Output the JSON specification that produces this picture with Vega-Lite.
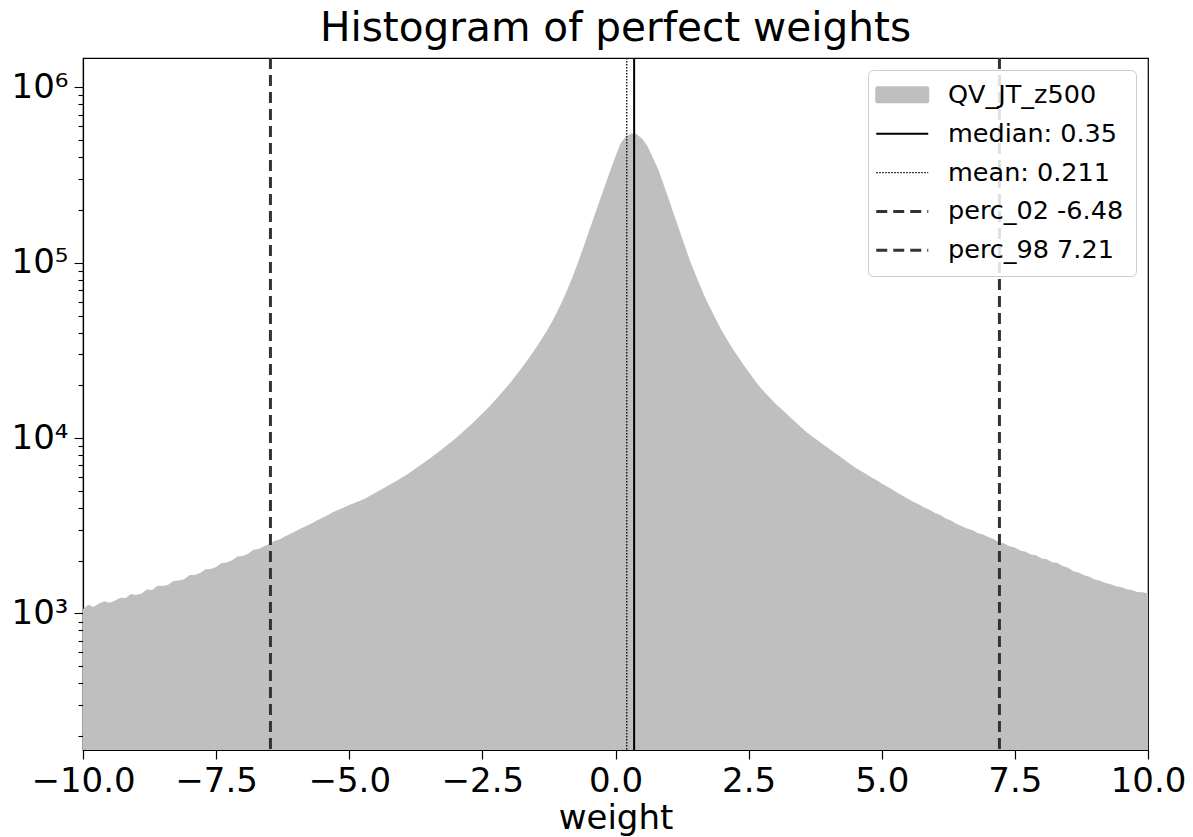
{
  "$schema": "https://vega.github.io/schema/vega-lite/v6.json",
  "width": 1065,
  "height": 692,
  "autosize": "none",
  "padding": {"left": 83, "top": 58, "right": 45, "bottom": 87},
  "background": "white",
  "config": {"font": "DejaVu Sans", "view": {"stroke": "black", "strokeWidth": 1.2}},
  "title": {"text": "Histogram of perfect weights", "fontSize": 40.6, "fontWeight": "normal", "font": "DejaVu Sans", "color": "black", "anchor": "middle", "baseline": "bottom", "offset": -34},
  "layer": [
    {
      "data": {"values": [
        {"weight": -10.0, "count": 1060}, {"weight": -9.9, "count": 1120}, {"weight": -9.8, "count": 1090}, {"weight": -9.7, "count": 1140}, {"weight": -9.6, "count": 1175},
        {"weight": -9.5, "count": 1150}, {"weight": -9.4, "count": 1180}, {"weight": -9.3, "count": 1230}, {"weight": -9.2, "count": 1225}, {"weight": -9.1, "count": 1290},
        {"weight": -9.0, "count": 1275}, {"weight": -8.9, "count": 1300}, {"weight": -8.8, "count": 1370}, {"weight": -8.7, "count": 1360}, {"weight": -8.6, "count": 1440},
        {"weight": -8.5, "count": 1435}, {"weight": -8.4, "count": 1460}, {"weight": -8.3, "count": 1530}, {"weight": -8.2, "count": 1540}, {"weight": -8.1, "count": 1565},
        {"weight": -8.0, "count": 1660}, {"weight": -7.9, "count": 1655}, {"weight": -7.8, "count": 1700}, {"weight": -7.7, "count": 1790}, {"weight": -7.6, "count": 1795},
        {"weight": -7.5, "count": 1840}, {"weight": -7.4, "count": 1940}, {"weight": -7.3, "count": 1950}, {"weight": -7.2, "count": 2010}, {"weight": -7.1, "count": 2110},
        {"weight": -7.0, "count": 2125}, {"weight": -6.9, "count": 2190}, {"weight": -6.8, "count": 2310}, {"weight": -6.7, "count": 2330}, {"weight": -6.6, "count": 2420},
        {"weight": -6.5, "count": 2490}, {"weight": -6.4, "count": 2600}, {"weight": -6.3, "count": 2650}, {"weight": -6.2, "count": 2760}, {"weight": -6.1, "count": 2850},
        {"weight": -6.0, "count": 2950}, {"weight": -5.9, "count": 3060}, {"weight": -5.8, "count": 3160}, {"weight": -5.7, "count": 3270}, {"weight": -5.6, "count": 3400},
        {"weight": -5.5, "count": 3510}, {"weight": -5.4, "count": 3650}, {"weight": -5.3, "count": 3790}, {"weight": -5.2, "count": 3905}, {"weight": -5.1, "count": 4020},
        {"weight": -5.0, "count": 4150}, {"weight": -4.9, "count": 4270}, {"weight": -4.8, "count": 4400}, {"weight": -4.7, "count": 4530}, {"weight": -4.6, "count": 4715},
        {"weight": -4.5, "count": 4900}, {"weight": -4.4, "count": 5100}, {"weight": -4.3, "count": 5300}, {"weight": -4.2, "count": 5510}, {"weight": -4.1, "count": 5730},
        {"weight": -4.0, "count": 5975}, {"weight": -3.9, "count": 6250}, {"weight": -3.8, "count": 6565}, {"weight": -3.7, "count": 6885}, {"weight": -3.6, "count": 7230},
        {"weight": -3.5, "count": 7603}, {"weight": -3.4, "count": 8017}, {"weight": -3.3, "count": 8453}, {"weight": -3.2, "count": 8933}, {"weight": -3.1, "count": 9441},
        {"weight": -3.0, "count": 10000}, {"weight": -2.9, "count": 10617}, {"weight": -2.8, "count": 11298}, {"weight": -2.7, "count": 12050}, {"weight": -2.6, "count": 12882},
        {"weight": -2.5, "count": 13804}, {"weight": -2.4, "count": 14825}, {"weight": -2.3, "count": 15959}, {"weight": -2.2, "count": 17258}, {"weight": -2.1, "count": 18707},
        {"weight": -2.0, "count": 20324}, {"weight": -1.9, "count": 22182}, {"weight": -1.8, "count": 24266}, {"weight": -1.7, "count": 26669}, {"weight": -1.6, "count": 29444},
        {"weight": -1.5, "count": 32584}, {"weight": -1.4, "count": 36141}, {"weight": -1.3, "count": 40458}, {"weight": -1.2, "count": 45709}, {"weight": -1.1, "count": 52240},
        {"weight": -1.0, "count": 60395}, {"weight": -0.9, "count": 70795}, {"weight": -0.8, "count": 84140}, {"weight": -0.7, "count": 101390}, {"weight": -0.6, "count": 123027},
        {"weight": -0.5, "count": 150661}, {"weight": -0.4, "count": 184077}, {"weight": -0.3, "count": 224905}, {"weight": -0.2, "count": 274157}, {"weight": -0.1, "count": 334195},
        {"weight": 0.0, "count": 405509}, {"weight": 0.1, "count": 483059}, {"weight": 0.2, "count": 527230}, {"weight": 0.3, "count": 545758}, {"weight": 0.4, "count": 540754},
        {"weight": 0.5, "count": 510505}, {"weight": 0.6, "count": 463447}, {"weight": 0.7, "count": 398107}, {"weight": 0.8, "count": 342768}, {"weight": 0.9, "count": 281838},
        {"weight": 1.0, "count": 230144}, {"weight": 1.1, "count": 187932}, {"weight": 1.2, "count": 153462}, {"weight": 1.3, "count": 125314}, {"weight": 1.4, "count": 102329},
        {"weight": 1.5, "count": 86099}, {"weight": 1.6, "count": 72778}, {"weight": 1.7, "count": 61660}, {"weight": 1.8, "count": 53703}, {"weight": 1.9, "count": 46774},
        {"weight": 2.0, "count": 40738}, {"weight": 2.1, "count": 36308}, {"weight": 2.2, "count": 32359}, {"weight": 2.3, "count": 29174}, {"weight": 2.4, "count": 26303},
        {"weight": 2.5, "count": 23878}, {"weight": 2.6, "count": 21677}, {"weight": 2.7, "count": 19770}, {"weight": 2.8, "count": 18281}, {"weight": 2.9, "count": 16982},
        {"weight": 3.0, "count": 15776}, {"weight": 3.1, "count": 14791}, {"weight": 3.2, "count": 13868}, {"weight": 3.3, "count": 13002}, {"weight": 3.4, "count": 12190},
        {"weight": 3.5, "count": 11429}, {"weight": 3.6, "count": 10715}, {"weight": 3.7, "count": 10186}, {"weight": 3.8, "count": 9683}, {"weight": 3.9, "count": 9204},
        {"weight": 4.0, "count": 8750}, {"weight": 4.1, "count": 8318}, {"weight": 4.2, "count": 7907}, {"weight": 4.3, "count": 7530}, {"weight": 4.4, "count": 7140},
        {"weight": 4.5, "count": 6800}, {"weight": 4.6, "count": 6520}, {"weight": 4.7, "count": 6260}, {"weight": 4.8, "count": 5990}, {"weight": 4.9, "count": 5780},
        {"weight": 5.0, "count": 5520}, {"weight": 5.1, "count": 5300}, {"weight": 5.2, "count": 5090}, {"weight": 5.3, "count": 4870}, {"weight": 5.4, "count": 4680},
        {"weight": 5.5, "count": 4500}, {"weight": 5.6, "count": 4320}, {"weight": 5.7, "count": 4190}, {"weight": 5.8, "count": 4020}, {"weight": 5.9, "count": 3900},
        {"weight": 6.0, "count": 3740}, {"weight": 6.1, "count": 3640}, {"weight": 6.2, "count": 3480}, {"weight": 6.3, "count": 3390}, {"weight": 6.4, "count": 3250},
        {"weight": 6.5, "count": 3150}, {"weight": 6.6, "count": 3050}, {"weight": 6.7, "count": 2990}, {"weight": 6.8, "count": 2880}, {"weight": 6.9, "count": 2820},
        {"weight": 7.0, "count": 2730}, {"weight": 7.1, "count": 2660}, {"weight": 7.2, "count": 2550}, {"weight": 7.3, "count": 2510}, {"weight": 7.4, "count": 2420},
        {"weight": 7.5, "count": 2380}, {"weight": 7.6, "count": 2290}, {"weight": 7.7, "count": 2250}, {"weight": 7.8, "count": 2170}, {"weight": 7.9, "count": 2150},
        {"weight": 8.0, "count": 2060}, {"weight": 8.1, "count": 2040}, {"weight": 8.2, "count": 1960}, {"weight": 8.3, "count": 1940}, {"weight": 8.4, "count": 1865},
        {"weight": 8.5, "count": 1825}, {"weight": 8.6, "count": 1740}, {"weight": 8.7, "count": 1715}, {"weight": 8.8, "count": 1650}, {"weight": 8.9, "count": 1620},
        {"weight": 9.0, "count": 1560}, {"weight": 9.1, "count": 1535}, {"weight": 9.2, "count": 1490}, {"weight": 9.3, "count": 1470}, {"weight": 9.4, "count": 1430},
        {"weight": 9.5, "count": 1410}, {"weight": 9.6, "count": 1375}, {"weight": 9.7, "count": 1360}, {"weight": 9.8, "count": 1325}, {"weight": 9.9, "count": 1320},
        {"weight": 10.0, "count": 1300}
      ]},
      "mark": {"type": "area", "clip": true, "interpolate": "linear"},
      "encoding": {
        "x": {"field": "weight", "type": "quantitative",
          "scale": {"domain": [-10, 10], "nice": false, "zero": false},
          "axis": {"values": [-10, -7.5, -5, -2.5, 0, 2.5, 5, 7.5, 10], "format": ".1f", "labelFontSize": 34, "labelColor": "black", "tickColor": "black", "domainColor": "black", "tickSize": 9, "tickWidth": 1.2, "domainWidth": 1.2, "labelPadding": 5, "labelFlush": false, "labelOverlap": false, "grid": false, "title": "weight", "titleFontSize": 34, "titleFontWeight": "normal", "titleColor": "black", "titlePadding": 3}},
        "y": {"field": "count", "type": "quantitative",
          "scale": {"type": "log", "domain": [166.5, 1472000], "nice": false},
          "axis": {"values": [200, 300, 400, 500, 600, 700, 800, 900, 1000, 2000, 3000, 4000, 5000, 6000, 7000, 8000, 9000, 10000, 20000, 30000, 40000, 50000, 60000, 70000, 80000, 90000, 100000, 200000, 300000, 400000, 500000, 600000, 700000, 800000, 900000, 1000000],
            "labelExpr": "datum.value == 1000 ? '10³' : datum.value == 10000 ? '10⁴' : datum.value == 100000 ? '10⁵' : datum.value == 1000000 ? '10⁶' : ''",
            "tickSize": {"condition": {"test": "datum.value == 1000 || datum.value == 10000 || datum.value == 100000 || datum.value == 1000000", "value": 9}, "value": 5},
            "labelFontSize": 34, "labelColor": "black", "tickColor": "black", "domainColor": "black", "tickWidth": 1.1, "domainWidth": 1.2, "labelPadding": 6, "labelOverlap": false, "grid": false, "title": null}},
        "y2": {"datum": 166.5},
        "color": {"datum": "QV_JT_z500", "type": "nominal",
          "scale": {"domain": ["QV_JT_z500", "median: 0.35", "mean: 0.211", "perc_02 -6.48", "perc_98 7.21"], "range": ["#bfbfbf", "#000000", "#000000", "#333333", "#333333"]},
          "legend": {"title": null, "orient": "top-right", "offset": 12, "fillColor": "rgba(255,255,255,0.85)", "strokeColor": "#cccccc", "cornerRadius": 5, "padding": 12, "labelFontSize": 25.5, "labelColor": "black", "labelFont": "DejaVu Sans", "labelLimit": 400, "symbolSize": 625, "rowPadding": 11.9, "labelOffset": 33, "symbolOffset": 9.5,
            "encode": {"symbols": {"update": {
              "shape": {"signal": "datum.value === 'QV_JT_z500' ? 'M-2.08,-0.6H2.08V0.6H-2.08Z' : 'M-2.08,0H2.08'"},
              "fill": {"signal": "datum.value === 'QV_JT_z500' ? '#bfbfbf' : 'transparent'"},
              "stroke": {"signal": "datum.value === 'QV_JT_z500' ? 'transparent' : ((datum.value === 'perc_02 -6.48' || datum.value === 'perc_98 7.21') ? '#333333' : 'black')"},
              "strokeDash": {"signal": "datum.value === 'mean: 0.211' ? [1.5, 1.5] : ((datum.value === 'perc_02 -6.48' || datum.value === 'perc_98 7.21') ? [11, 6] : [1, 0])"},
              "strokeWidth": {"signal": "datum.value === 'mean: 0.211' ? 1.3 : ((datum.value === 'perc_02 -6.48' || datum.value === 'perc_98 7.21') ? 3 : 2)"},
              "opacity": {"value": 1}
            }}}}}
      }
    },
    {
      "data": {"values": [
        {"series": "median: 0.35", "weight": 0.35},
        {"series": "mean: 0.211", "weight": 0.211},
        {"series": "perc_02 -6.48", "weight": -6.48},
        {"series": "perc_98 7.21", "weight": 7.21}
      ]},
      "mark": {"type": "rule"},
      "encoding": {
        "x": {"field": "weight", "type": "quantitative"},
        "color": {"field": "series", "type": "nominal",
          "legend": {"title": null, "orient": "top-right", "offset": 12, "fillColor": "rgba(255,255,255,0.85)", "strokeColor": "#cccccc", "cornerRadius": 5, "padding": 12, "labelFontSize": 25.5, "labelColor": "black", "labelFont": "DejaVu Sans", "labelLimit": 400, "symbolSize": 625, "rowPadding": 11.9, "labelOffset": 33, "symbolOffset": 9.5}},
        "strokeDash": {"condition": [
          {"test": "datum.series === 'mean: 0.211'", "value": [1.5, 1.5]},
          {"test": "datum.series === 'perc_02 -6.48' || datum.series === 'perc_98 7.21'", "value": [11, 6]}
        ], "value": [1, 0]},
        "strokeWidth": {"condition": [
          {"test": "datum.series === 'mean: 0.211'", "value": 1.3},
          {"test": "datum.series === 'perc_02 -6.48' || datum.series === 'perc_98 7.21'", "value": 3}
        ], "value": 2}
      }
    }
  ]
}
